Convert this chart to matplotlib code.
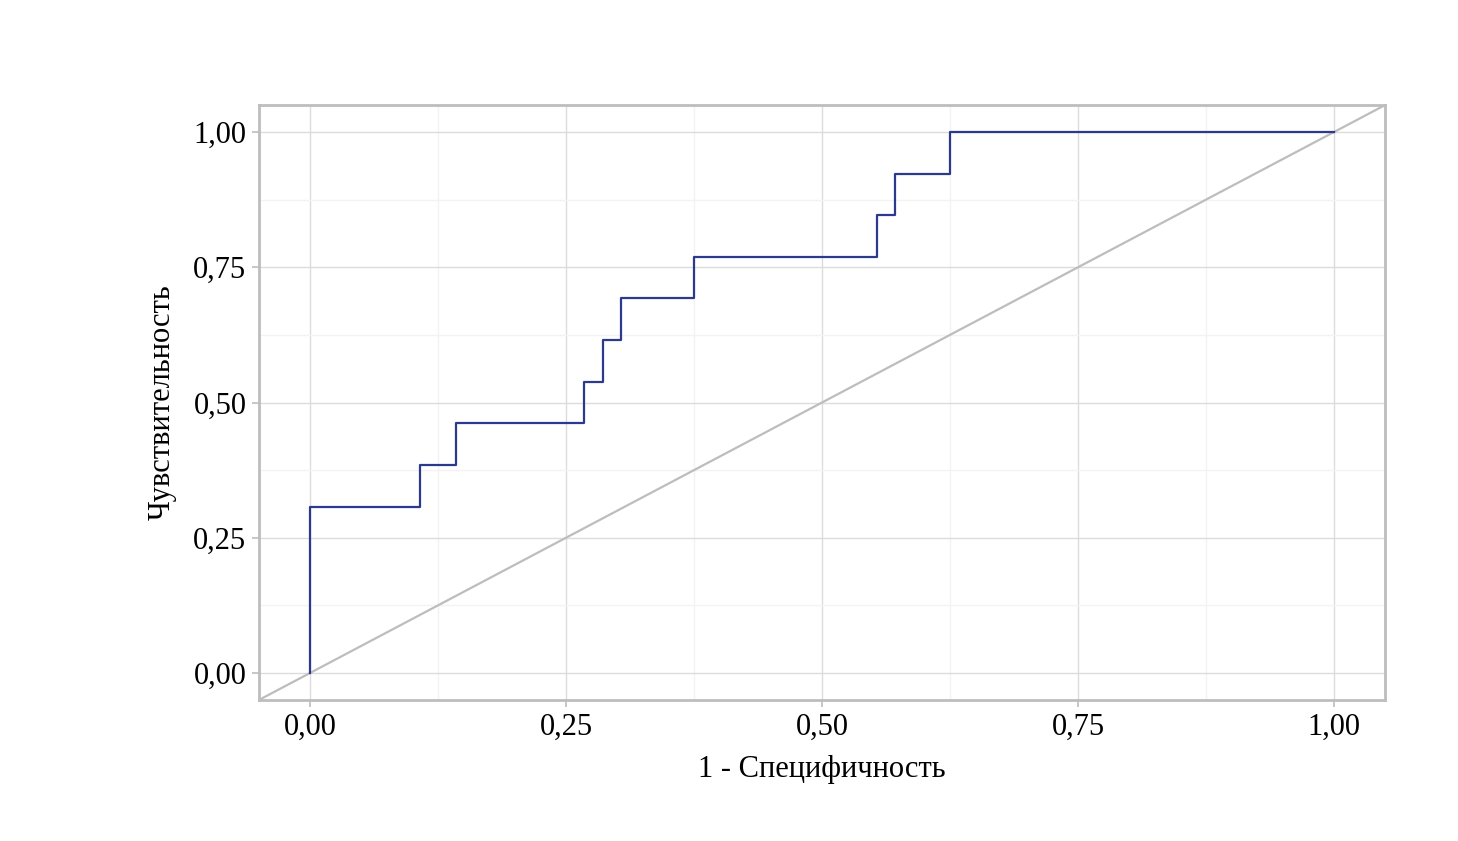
import numpy as np
import matplotlib
matplotlib.use("Agg")
import matplotlib.pyplot as plt
from matplotlib.ticker import MultipleLocator, FuncFormatter

# ROC steps (1 - specificity, sensitivity)
fpr = [0.0, 0.0, 6/56, 6/56, 8/56, 8/56, 15/56, 15/56, 16/56, 16/56,
       17/56, 17/56, 21/56, 21/56, 31/56, 31/56, 32/56, 32/56, 35/56, 35/56, 1.0]
tpr = [0.0, 4/13, 4/13, 5/13, 5/13, 6/13, 6/13, 7/13, 7/13, 8/13,
       8/13, 9/13, 9/13, 10/13, 10/13, 11/13, 11/13, 12/13, 12/13, 1.0, 1.0]

ref_line = [-0.05, 1.05]

plt.rcParams['font.family'] = ['Liberation Serif', 'DejaVu Serif']

fig = plt.figure(figsize=(14.58, 8.41), dpi=100)
ax = fig.add_axes([0.1776, 0.1677, 0.7724, 0.7074])

ax.plot(ref_line, ref_line, color='#bdbdbd', lw=1.6, zorder=2)
ax.plot(fpr, tpr, color='#2b3a8c', lw=1.6, zorder=3)

ax.set_xlim(-0.05, 1.05)
ax.set_ylim(-0.05, 1.05)

ax.xaxis.set_major_locator(MultipleLocator(0.25))
ax.yaxis.set_major_locator(MultipleLocator(0.25))
ax.xaxis.set_minor_locator(MultipleLocator(0.125))
ax.yaxis.set_minor_locator(MultipleLocator(0.125))
fmt = FuncFormatter(lambda v, p: f"{v:.2f}".replace('.', ','))
ax.xaxis.set_major_formatter(fmt)
ax.yaxis.set_major_formatter(fmt)

ax.grid(which='major', color='#dcdcdc', lw=1.0, zorder=0)
ax.grid(which='minor', color='#f3f3f3', lw=1.0, zorder=0)
ax.tick_params(which='major', direction='out', length=5, width=1.2,
               color='#bdbdbd', labelsize=22)
ax.tick_params(axis='x', pad=4)
ax.tick_params(axis='y', pad=4)
ax.tick_params(which='minor', length=0)

for s in ax.spines.values():
    s.set_color('#bdbdbd')
    s.set_linewidth(2)

ax.set_xlabel('1 - Специфичность', fontsize=22, labelpad=10)
ax.set_ylabel('Чувствительность', fontsize=22, labelpad=12)

fig.savefig('out.png', dpi=100)
